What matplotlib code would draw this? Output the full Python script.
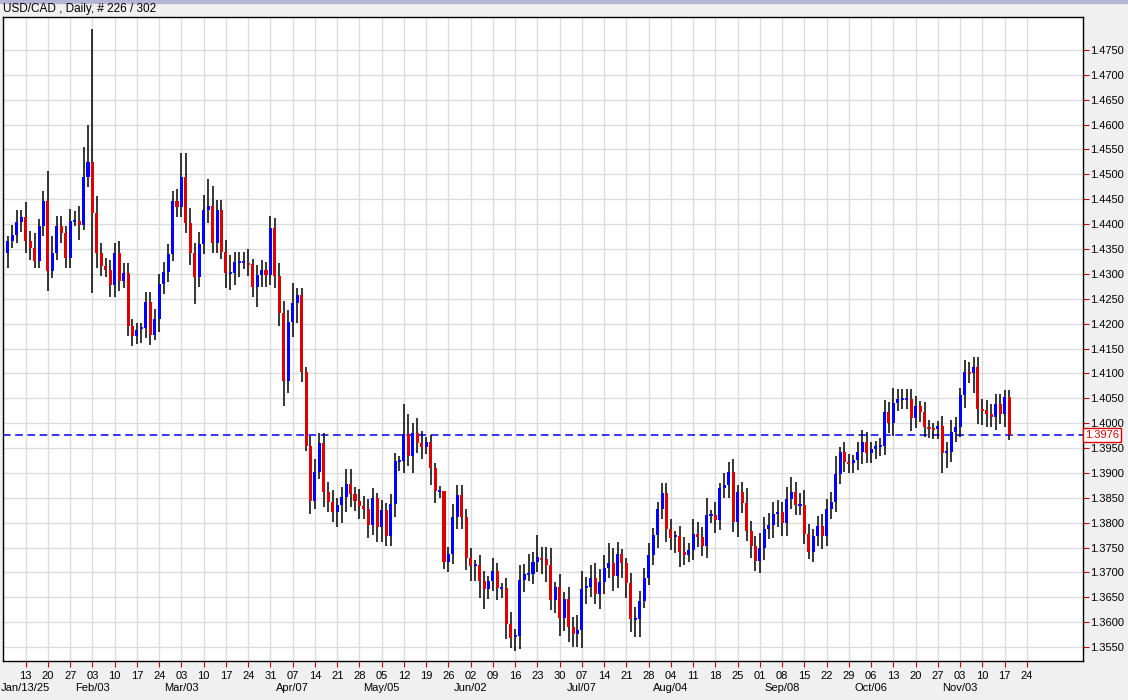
import numpy as np
import pandas as pd
import matplotlib
matplotlib.use("Agg")
import matplotlib.pyplot as plt
from matplotlib.patches import Rectangle

closes = [1.4366,1.4378,1.4404,1.4414,1.4366,1.4352,1.4326,1.4396,1.4446,1.4306,1.4342,1.4396,1.4382,1.4332,1.4406,1.4406,1.4398,1.4495,1.4525,1.4422,1.4342,1.4316,1.4308,1.4278,1.4342,1.4286,1.4302,1.4195,1.4175,1.4187,1.4191,1.4243,1.4177,1.4209,1.4280,1.4304,1.4340,1.4446,1.4434,
          1.4495,1.4402,1.4342,1.4294,1.4360,1.4428,1.4436,1.4362,1.4428,1.4344,1.4302,1.4302,1.4324,1.4324,1.4324,1.4320,1.4274,1.4298,1.4308,1.4298,1.4392,1.4296,1.4221,1.4085,1.4203,1.4241,1.4257,1.4103,1.3954,1.3843,1.3902,1.3960,1.3861,1.3841,1.3821,1.3835,1.3851,1.3877,
          1.3857,1.3843,1.3833,1.3827,1.3795,1.3849,1.3791,1.3825,1.3773,1.3837,1.3924,1.3924,1.3978,1.3934,1.3980,1.3960,1.3952,1.3962,1.3910,1.3864,1.3864,1.3721,1.3737,1.3812,1.3856,1.3812,1.3729,1.3713,1.3715,1.3683,1.3667,1.3683,1.3703,1.3669,1.3669,1.3596,
          1.3568,1.3572,1.3685,1.3697,1.3697,1.3721,1.3731,1.3727,1.3715,1.3644,1.3671,1.3608,1.3646,1.3590,1.3576,1.3584,1.3667,1.3671,1.3689,1.3657,1.3681,1.3709,1.3719,1.3693,1.3737,1.3719,1.3679,1.3606,1.3606,1.3643,1.3689,1.3735,1.3775,1.3827,1.3859,1.3787,1.3769,1.3773,1.3741,1.3735,1.3745,
          1.3777,1.3771,1.3753,1.3815,1.3816,1.3805,1.3869,1.3875,1.3902,1.3801,1.3861,1.3839,1.3783,1.3753,1.3723,1.3749,1.3787,1.3795,1.3817,1.3821,1.3799,1.3847,1.3861,1.3835,1.3835,1.3777,1.3741,1.3773,1.3793,1.3773,1.3827,1.3841,1.3898,1.3942,1.3922,1.3920,1.3926,
          1.3942,1.3962,1.3940,1.3948,1.3954,1.3955,1.4022,1.4000,1.4040,1.4048,1.4048,1.4048,1.4010,1.4034,1.4022,1.3992,1.3990,1.3988,1.3994,1.3940,1.3942,1.3982,1.3992,1.4056,1.4102,1.4100,1.4112,1.4028,1.4026,1.4018,1.4012,1.4038,1.4018,1.4052,1.3976]
first_open = 1.4342

upper_pips = [10,20,25,15,30,20,30,15,20,60,35,20,20,15,25,20,30,60,75,268,35,20,15,20,20,25,20,20,15,15,10,20,20,20,20,20,20,20,25,
              48,48,30,20,25,30,55,40,20,20,25,35,20,20,20,25,10,20,20,15,25,20,25,25,25,40,15,15,10,20,25,20,20,20,25,15,20,30,
              30,15,25,20,20,20,10,20,15,20,15,10,60,40,20,30,25,10,15,10,10,0,15,25,20,20,15,20,10,20,20,10,25,15,10,20,
              25,15,30,20,40,20,45,20,25,35,10,25,15,25,20,30,35,20,25,30,25,25,40,30,25,10,10,20,25,20,20,25,15,15,20,20,20,10,20,30,15,
              30,25,20,35,10,25,10,25,20,25,15,20,30,20,20,30,25,25,25,25,20,25,30,20,25,30,20,15,20,25,20,20,35,10,20,15,10,
              20,25,20,15,10,15,25,20,30,20,20,20,20,20,10,20,15,10,10,20,20,25,20,15,25,20,20,20,20,20,20,20,20,15,15]
lower_pips = [30,15,15,20,25,25,15,15,20,40,15,15,20,20,20,10,30,10,20,160,30,20,15,25,25,20,15,20,20,15,25,20,20,10,25,20,20,15,20,
              20,20,25,55,20,20,25,20,20,15,30,35,25,30,15,25,20,40,25,25,20,25,25,50,25,30,40,20,10,25,15,15,30,20,20,30,35,30,
              25,20,25,20,25,20,30,30,20,20,25,20,25,20,35,20,25,15,35,25,15,15,20,20,25,25,25,30,30,35,40,20,20,25,20,30,
              20,25,25,25,15,20,20,30,35,20,25,35,25,30,25,25,35,30,20,20,30,25,20,30,25,30,30,25,35,35,15,15,20,25,20,25,25,30,30,20,15,
              20,20,20,25,15,25,20,20,25,20,30,20,20,25,20,25,25,20,25,25,25,25,20,20,20,20,15,20,20,25,20,20,20,20,20,20,20,
              20,25,20,20,20,20,20,20,25,15,20,20,25,20,20,20,20,20,20,40,30,20,20,20,25,20,40,30,30,25,20,25,20,25,10]

month_labels = {"2025-01-13": "Jan/13/25", "2025-02-03": "Feb/03", "2025-03-03": "Mar/03",
                "2025-04-07": "Apr/07", "2025-05-05": "May/05", "2025-06-02": "Jun/02",
                "2025-07-07": "Jul/07", "2025-08-04": "Aug/04", "2025-09-08": "Sep/08",
                "2025-10-06": "Oct/06", "2025-11-03": "Nov/03"}

n = len(closes)
opens = [first_open] + closes[:-1]
dates = pd.bdate_range(end="2025-11-18", periods=n)

W, H = 1128, 700
fig = plt.figure(figsize=(W/100, H/100), dpi=100, facecolor="#f0f0f0")
fig.patches.append(Rectangle((0, 1-3/H), 1, 3/H, transform=fig.transFigure, color="#b4b4d4", zorder=0))
ax = fig.add_axes([3/W, 39/H, 1080/W, 644/H], facecolor="white")

for i in range(n):
    o, c = opens[i], closes[i]
    hi = max(o, c) + upper_pips[i]*1e-4
    lo = min(o, c) - lower_pips[i]*1e-4
    ax.vlines(i, lo, hi, color="black", lw=1.1, zorder=3)
    col = "#0000ff" if c >= o else "#dd0000"
    if abs(c - o) < 0.0004:
        ax.hlines(c, i-0.35, i+0.35, color=col, lw=1.3, zorder=4)
    else:
        ax.bar(i, abs(c-o), bottom=min(o, c), width=0.68, color=col, zorder=4, lw=0)

last = closes[-1]
ax.axhline(last, color="#0000ff", ls=(0, (5, 3)), lw=1.1, zorder=2)

ax.set_xlim(-1.1, 241.6)
ax.set_ylim(1.35219, 1.48163)

yt = np.round(np.arange(1.3550, 1.47501, 0.005), 4)
ax.yaxis.tick_right()
ax.set_yticks(yt)
ax.set_yticklabels([f"{v:.4f}" for v in yt], fontsize=8, family="Liberation Sans")
ax.tick_params(axis="y", direction="out", length=4, color="#dd0000", pad=1)

mon_idx = [i for i, d in enumerate(dates) if d.weekday() == 0 and d >= pd.Timestamp("2025-01-13")]
ticks = mon_idx + [mon_idx[-1] + 5]
labels = [dates[i].strftime("%d") for i in mon_idx] + ["24"]
ax.set_xticks(ticks)
ax.set_xticklabels(labels, fontsize=8, family="Liberation Sans")
ax.tick_params(axis="x", direction="out", length=4, color="#dd0000", pad=3)

for i in mon_idx:
    key = dates[i].strftime("%Y-%m-%d")
    if key in month_labels:
        ax.annotate(month_labels[key], xy=(i, 0), xycoords=ax.get_xaxis_transform(),
                    xytext=(0, -16), textcoords="offset points", ha="center", va="top",
                    fontsize=8, family="Liberation Sans")

ax.grid(True, color="#dcdcdc", lw=1, zorder=0)
ax.set_axisbelow(True)
for s in ax.spines.values():
    s.set_color("black"); s.set_linewidth(1)

ax.text(1.002, last, f"{last:.4f}", transform=ax.get_yaxis_transform(), ha="left", va="center",
        fontsize=8, color="#dd0000", family="Liberation Sans",
        bbox=dict(boxstyle="square,pad=0.15", fc="white", ec="#dd0000", lw=1))

fig.text(3/W, 1-9/H, "USD/CAD , Daily, # 226 / 302", ha="left", va="center", fontsize=8.5, family="Liberation Sans")

fig.savefig("out.png", dpi=100, facecolor=fig.get_facecolor())
